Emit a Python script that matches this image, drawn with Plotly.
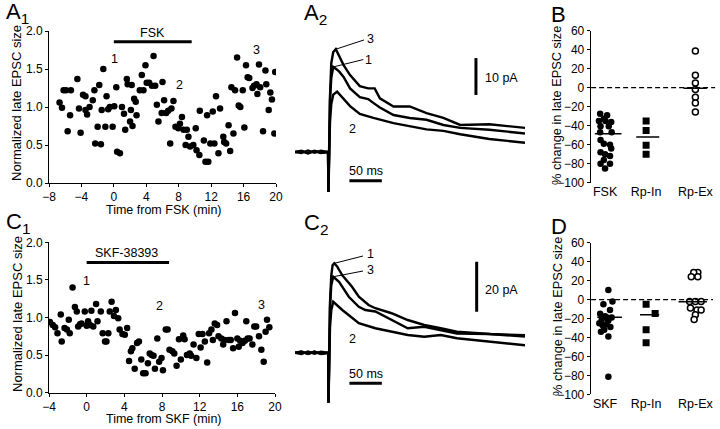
import plotly.graph_objects as go

FONT = "Liberation Sans, Arial, sans-serif"
W, H = 720, 429

# ---------------- A1: FSK time course ----------------
a1_time = [-6.7, -6.4, -6.2, -5.9, -5.7, -5.4, -5.3, -4.5, -4.3, -4.1, -3.8, -3.5, -3.5, -3.3, -3.0,
           -2.6, -2.4, -2.3, -2.0, -1.8, -1.6, -1.5, -1.3, -1.05, -0.9, -0.7, -0.5, -0.15, 0.05, 0.3,
           0.4, 0.75, 1.0, 1.25, 1.4, 1.6, 1.7, 2.0, 2.1, 2.2, 2.3, 2.5, 2.7, 2.8, 3.2, 3.45, 3.65,
           3.9, 4.05, 4.35, 4.7, 4.9, 5.1, 5.3, 5.5, 5.9, 6.0, 6.2, 6.45, 6.7, 6.95, 7.1, 7.35, 7.6,
           7.95, 8.15, 8.4, 8.6, 8.85, 9.0, 9.2, 9.4, 9.8, 10.1, 10.2, 10.55, 10.6, 11.1, 11.3, 11.5,
           11.65, 11.9, 12.2, 12.4, 12.6, 12.9, 13.1, 13.5, 13.6, 13.85, 14.15, 14.35, 14.5, 14.75,
           14.95, 15.2, 15.4, 15.6, 15.9, 16.1, 16.3, 16.5, 16.7, 17.1, 17.3, 17.6, 17.7, 17.9, 18.05,
           18.4, 18.7, 18.8, 19.1, 19.3, 19.5, 19.8, 19.9]
a1_size = [1.06, 0.99, 1.22, 1.22, 0.68, 0.89, 1.22, 1.37, 0.98, 0.66, 1.16, 1.14, 0.96, 0.90, 1.00,
           1.09, 1.22, 0.52, 0.74, 1.29, 0.51, 0.96, 1.50, 0.74, 1.14, 0.97, 1.00, 0.74, 1.01, 1.26,
           0.41, 0.39, 1.00, 0.91, 0.70, 1.37, 1.30, 0.81, 0.96, 1.29, 0.75, 1.11, 1.07, 0.89, 1.22, 1.42, 1.22,
           1.55, 1.32, 1.32, 1.28, 1.67, 1.28, 1.03, 0.81, 0.92, 1.33, 1.09, 0.92, 0.95, 0.52, 0.98, 1.08, 0.74,
           0.72, 0.78, 0.87, 0.70, 0.50, 0.70, 0.61, 0.48, 0.50, 0.72, 0.43, 0.37, 0.95, 0.56, 0.28, 0.89,
           0.28, 0.52, 0.94, 0.52, 1.14, 0.39, 0.98, 0.61, 0.54, 0.52, 0.76, 0.42, 1.26, 0.65,
           1.22, 1.65, 1.02, 1.00, 1.22, 0.73, 1.55, 1.39, 1.38, 1.25, 1.28, 1.30, 1.17, 1.56, 1.26,
           0.68, 1.48, 1.30, 0.96, 1.19, 1.10, 0.65, 1.46]
a1_xticks = [-8, -4, 0, 4, 8, 12, 16, 20]
a1_yticks = [0.0, 0.5, 1.0, 1.5, 2.0]
a1_drug = [0, 9.6]

# ---------------- C1: SKF time course ----------------
c1_time = [-3.9, -3.6, -3.35, -3.1, -2.75, -2.65, -2.35, -2.1, -1.9, -1.8, -1.5, -1.25, -1.05, -0.9,
           -0.7, -0.55, -0.2, 0.0, 0.15, 0.35, 0.5, 0.7, 1.0, 1.15, 1.5, 1.7, 1.95, 2.1, 2.3, 2.45,
           2.65, 2.9, 3.1, 3.35, 3.5, 3.8, 4.05, 4.3, 4.5, 4.7, 4.85, 5.1, 5.35, 5.55, 5.8, 6.0, 6.25,
           6.5, 6.7, 6.9, 7.1, 7.25, 7.5, 7.7, 7.95, 8.1, 8.4, 8.6, 8.8, 9.1, 9.3, 9.55, 9.8, 10.0,
           10.25, 10.4, 10.65, 10.95, 11.1, 11.35, 11.65, 11.9, 12.1, 12.3, 12.55, 12.8, 13.0, 13.25,
           13.4, 13.6, 13.85, 14.0, 14.3, 14.5, 14.65, 14.85, 15.1, 15.3, 15.55, 15.75, 16.0, 16.15,
           16.3, 16.55, 16.8, 16.95, 17.1, 17.3, 17.6, 17.8, 18.0, 18.3, 18.55, 18.8, 19.0, 19.15, 19.4]
c1_size = [0.94, 0.90, 0.87, 0.79, 1.04, 0.68, 0.86, 0.84, 0.97, 0.79, 1.40, 1.14, 1.08, 0.88,
           0.91, 0.92, 1.08, 0.89, 0.95, 0.90, 1.09, 0.88, 1.18, 0.95, 1.08, 0.79, 0.68, 0.68, 0.79, 1.08,
           1.21, 1.02, 1.10, 0.99, 0.84, 0.78, 0.77, 0.86, 0.42, 0.55, 0.59, 0.32, 0.66, 0.68, 0.44, 0.26, 0.26,
           0.39, 0.52, 0.50, 0.49, 0.32, 0.72, 0.41, 0.46, 0.30, 0.84, 0.84, 0.57, 0.55, 0.52, 0.36, 0.71, 0.44,
           0.76, 0.71, 0.50, 0.52, 0.49, 0.64, 0.46, 0.78, 0.60, 0.78, 0.68, 0.40, 0.79, 0.84,
           0.70, 0.92, 0.90, 0.75, 0.72, 0.64, 0.70, 0.95, 0.70, 0.70, 0.59, 1.06, 0.72, 0.61,
           0.69, 0.66, 0.69, 0.95, 0.72, 0.72, 0.64, 0.88, 0.88, 0.75, 0.57, 0.41, 0.81, 0.97, 0.87]
c1_xticks = [-4, 0, 4, 8, 12, 16, 20]
c1_drug = [0, 8.75]

# ---------------- A2 / C2: EPSC traces (ms, pA) ----------------
a2_t3 = [0, 10, 20, 30, 40, 50, 51, 51.6, 52.5, 54, 56, 59, 63, 68, 75, 85, 100, 113, 123, 131, 152, 177, 203, 229, 255, 300, 355]
a2_i3 = [0, 0.3, -0.4, 0.2, -0.3, 0, 0, -10.8, 2, 15, 24, 27, 27.8, 26, 23.5, 20.8, 17.8, 17.2, 17.2, 14.5, 12.3, 12.3, 10.5, 9.2, 7.3, 7.5, 6.5]
a2_t1 = [0, 10, 20, 30, 40, 50, 51, 51.6, 52.5, 54, 56, 59, 63, 68, 75, 85, 100, 113, 123, 131, 152, 177, 203, 229, 255, 300, 355]
a2_i1 = [0, -0.3, 0.4, -0.2, 0.3, 0, 0, -10.8, 2, 14, 20, 23, 22.5, 21.8, 20.3, 17.2, 14.8, 14.3, 13, 12, 10, 9.2, 8.7, 7.3, 6.5, 6, 5]
a2_t2 = [0, 10, 20, 30, 40, 50, 51, 51.6, 52.5, 54, 56, 59, 65, 72, 85, 100, 121, 152, 177, 203, 229, 255, 300, 355]
a2_i2 = [0, 0.2, -0.3, 0.3, -0.2, 0, 0, -10.8, 0, 8, 13, 15.5, 16.3, 15, 12.4, 10.3, 9.2, 7.8, 7, 6.1, 5.7, 4.8, 3.5, 2.5]

c2_t1 = [0, 10, 20, 30, 40, 50, 51.2, 51.7, 52.5, 54, 56, 58, 60.6, 65, 73, 88, 98.5, 113.6, 124, 149, 174, 199.5, 225, 250, 300, 355]
c2_i1 = [0, 0.5, -0.5, 0.4, -0.4, 0, 0, -20, 0, 20, 31, 35, 35.8, 34.5, 31, 26.4, 22.4, 19.1, 17.8, 15.8, 13.1, 11.1, 9.8, 8.4, 7.5, 7]
c2_t3 = [0, 10, 20, 30, 40, 50, 51.2, 51.7, 52.5, 54, 56, 59, 68, 83, 98.5, 108.6, 124, 149, 174, 199.5, 225, 250, 300, 355]
c2_i3 = [0, -0.5, 0.5, -0.4, 0.4, 0, 0, -20, 0, 18, 27, 30.4, 28.4, 22.4, 18.4, 17.1, 16.5, 13.1, 9.8, 10.4, 9.1, 7.7, 7.5, 6.5]
c2_t2 = [0, 10, 20, 30, 40, 50, 51.2, 51.7, 52.5, 54, 56, 59, 73, 98.5, 124, 149, 174, 199.5, 225, 250, 300, 355]
c2_i2 = [0, 0.4, -0.4, 0.5, -0.5, 0, 0, -20, -3, 10, 17, 20.4, 17.1, 11.8, 9.8, 8.4, 7.1, 6.4, 7.1, 5.8, 4.5, 3]

# ---------------- B / D: % change ----------------
grp_labels = ["FSK", "Rp-In", "Rp-Ex"]
grp_labels_d = ["SKF", "Rp-In", "Rp-Ex"]
grp_pos = [0, 1, 2.2]

b_fsk = [-27.4, -29, -32.6, -35, -35, -36, -40.7, -40.7, -47, -47, -55, -59, -60, -64, -68, -70, -72, -76, -80, -80, -85]
b_fsk_jit = [-0.12, 0.05, -0.03, -0.15, 0.01, 0.15, -0.11, 0.09, -0.12, 0.16, -0.11, -0.03, 0.12, 0.15, -0.11, 0.0, 0.12, -0.03, -0.11, 0.12, 0.0]
b_rpin = [-35, -45, -60.7, -70]
b_rpex = [38.6, 13, 4.9, -2, -10, -16, -25.6]
b_means = [-48.4, -52, -0.7]

d_skf = [10, -5, -2, -15, -11, -17.5, -19, -21, -22, -19, -25, -26, -27, -29, -32, -34, -39, -81.5]
d_skf_jit = [0.08, -0.04, 0.18, -0.12, 0.12, 0.0, 0.05, -0.08, 0.08, 0.16, -0.14, 0.04, -0.06, 0.13, -0.02, -0.1, 0.08, 0.08]
d_rpin = [-5, -14.6, -32, -45.6]
d_rpin_jit = [0, 0.22, 0, 0]
d_rpex = [28.5, 28.5, 24, 24, -2, -2, -2, -9, -11, -11, -16, -21]
d_rpex_jit = [0.06, -0.04, -0.1, 0.06, -0.14, 0.0, 0.14, -0.12, 0.04, 0.14, 0.0, -0.03]
d_means = [-18.8, -16, -2.3]

# -------------------------------------------------
fig = go.Figure()

def dom(x0, x1, y0, y1):
    return dict(x=[x0 / W, x1 / W], y=[1 - y1 / H, 1 - y0 / H])

A1 = dom(49, 276, 31, 183)
C1 = dom(49, 275, 242.3, 392.7)
A2 = dom(295, 525, 20, 200)
C2 = dom(295, 525, 235, 410)
B = dom(590.7, 720, 30.7, 182.7)
D = dom(590.7, 720, 242.7, 394.3)

tickfont = dict(size=12, color="black", family=FONT)
axis_common = dict(showline=True, linecolor="black", linewidth=1, ticks="outside", ticklen=3,
                   tickwidth=1, tickcolor="black", showgrid=False, zeroline=False, tickfont=tickfont,
                   fixedrange=True, automargin=False)
hidden = dict(visible=False, showgrid=False, zeroline=False, fixedrange=True)

dot = dict(color="black", size=6.5, symbol="circle")

fig.add_trace(go.Scatter(x=a1_time, y=a1_size, mode="markers", marker=dot, xaxis="x", yaxis="y"))
fig.add_trace(go.Scatter(x=c1_time, y=c1_size, mode="markers", marker=dot, xaxis="x4", yaxis="y4"))

tr_line = dict(color="black", width=2.4)
for t, i in [(a2_t2, a2_i2), (a2_t1, a2_i1), (a2_t3, a2_i3)]:
    fig.add_trace(go.Scatter(x=t, y=i, mode="lines", line=tr_line, xaxis="x2", yaxis="y2"))
for t, i in [(c2_t2, c2_i2), (c2_t3, c2_i3), (c2_t1, c2_i1)]:
    fig.add_trace(go.Scatter(x=t, y=i, mode="lines", line=tr_line, xaxis="x5", yaxis="y5"))

# B
fig.add_trace(go.Scatter(x=[grp_pos[0] + j for j in b_fsk_jit], y=b_fsk, mode="markers",
                         marker=dot, xaxis="x3", yaxis="y3"))
fig.add_trace(go.Scatter(x=[grp_pos[1]] * len(b_rpin), y=b_rpin, mode="markers",
                         marker=dict(color="black", size=7, symbol="square"), xaxis="x3", yaxis="y3"))
fig.add_trace(go.Scatter(x=[grp_pos[2]] * len(b_rpex), y=b_rpex, mode="markers",
                         marker=dict(color="white", size=6, symbol="circle", line=dict(color="black", width=1.5)),
                         xaxis="x3", yaxis="y3"))
# D
fig.add_trace(go.Scatter(x=[grp_pos[0] + j for j in d_skf_jit], y=d_skf, mode="markers",
                         marker=dot, xaxis="x6", yaxis="y6"))
fig.add_trace(go.Scatter(x=[grp_pos[1] + j for j in d_rpin_jit], y=d_rpin, mode="markers",
                         marker=dict(color="black", size=7, symbol="square"), xaxis="x6", yaxis="y6"))
fig.add_trace(go.Scatter(x=[grp_pos[2] + j for j in d_rpex_jit], y=d_rpex, mode="markers",
                         marker=dict(color="white", size=6, symbol="circle", line=dict(color="black", width=1.5)),
                         xaxis="x6", yaxis="y6"))

shapes = []
def line(xref, yref, x0, y0, x1, y1, width=1, dash="solid"):
    shapes.append(dict(type="line", xref=xref, yref=yref, x0=x0, y0=y0, x1=x1, y1=y1,
                       line=dict(color="black", width=width, dash=dash)))

# drug bars
line("x", "y", a1_drug[0], 1.86, a1_drug[1], 1.86, 3)
line("x4", "y4", c1_drug[0], 1.73, c1_drug[1], 1.73, 3)

# mean lines & zero lines
mean_span = [(-0.25, 0.4), (0.76, 1.32), (1.91, 2.48)]
for (a, b), m in zip(mean_span, b_means):
    line("x3", "y3", a, m, b, m, 1.5)
mean_span_d = [(-0.19, 0.41), (0.85, 1.32), (1.79, 2.48)]
for (a, b), m in zip(mean_span_d, d_means):
    line("x6", "y6", a, m, b, m, 1.5)
line("x3", "y3", -0.34, 0, 2.68, 0, 1.2, "5px,3px")
line("x6", "y6", -0.34, 0, 2.63, 0, 1.2, "5px,3px")

# scale bars
line("x2", "y2", 279.3, 15.4, 279.3, 25.4, 3)
line("x2", "y2", 84, -7.8, 134, -7.8, 3)
line("x5", "y5", 280.4, 16.4, 280.4, 36.4, 3)
line("x5", "y5", 84, -12.2, 134, -12.2, 3)

# leader lines
line("x2", "y2", 63, 27.8, 106.5, 30.3, 1)
line("x2", "y2", 59, 23, 105.5, 25, 1)
line("x5", "y5", 61, 35.8, 105, 38.7, 1)
line("x5", "y5", 59, 30.4, 105, 32.7, 1)

ann = []
def text(s, x, y, xref="paper", yref="paper", size=12, xanchor="center", yanchor="middle", angle=0):
    if xref == "paper":
        x = x / W
    if yref == "paper":
        y = 1 - y / H
    ann.append(dict(text=s, x=x, y=y, xref=xref, yref=yref, showarrow=False, xanchor=xanchor,
                    yanchor=yanchor, textangle=angle, font=dict(size=size, color="black", family=FONT)))

# panel letters
text("A<sub>1</sub>", 4, 13, size=22, xanchor="left")
text("A<sub>2</sub>", 302, 14, size=22, xanchor="left")
text("B", 549, 14, size=22, xanchor="left")
text("C<sub>1</sub>", 4, 223, size=22, xanchor="left")
text("C<sub>2</sub>", 302, 224, size=22, xanchor="left")
text("D", 549, 226, size=22, xanchor="left")

# axis titles
text("Normalized late EPSC size", 17, 103, size=13, angle=-90)
text("Normalized late EPSC size", 17, 314, size=13, angle=-90)
text("Time from FSK (min)", 164, 209.5, size=12.5)
text("Time from SKF (min)", 164, 418.5, size=12.5)
text("% change in late EPSC size", 557, 106, size=12.8, angle=-90)
text("% change in late EPSC size", 557, 317, size=12.8, angle=-90)

# labels in A1/C1
text("FSK", 4.8, 1.98, "x", "y", size=12.5)
text("1", 0.1, 1.63, "x", "y", size=12.5)
text("2", 8.05, 1.29, "x", "y", size=12.5)
text("3", 17.6, 1.75, "x", "y", size=12.5)
text("SKF-38393", 4.2, 1.86, "x4", "y4", size=12.5)
text("1", 0.0, 1.49, "x4", "y4", size=12.5)
text("2", 7.7, 1.15, "x4", "y4", size=12.5)
text("3", 18.55, 1.17, "x4", "y4", size=12.5)

# traces labels
text("3", 117, 30.5, "x2", "y2", size=12.5)
text("1", 114, 24.9, "x2", "y2", size=12.5)
text("2", 89, 6.2, "x2", "y2", size=12.5)
text("10 pA", 290, 20, "x2", "y2", size=12.5, xanchor="left")
text("50 ms", 109, -5.1, "x2", "y2", size=12.5)
text("1", 117, 39.5, "x5", "y5", size=12.5)
text("3", 117, 33, "x5", "y5", size=12.5)
text("2", 89, 5.5, "x5", "y5", size=12.5)
text("20 pA", 290, 25, "x5", "y5", size=12.5, xanchor="left")
text("50 ms", 109, -8.3, "x5", "y5", size=12.5)

cat_axis = dict(showline=False, ticks="", showgrid=False, zeroline=False, tickfont=dict(size=12.5, color="black", family=FONT),
                tickmode="array", tickvals=grp_pos, range=[-0.35, 2.8], fixedrange=True, automargin=False)

fig.update_layout(
    width=W, height=H, margin=dict(l=0, r=0, t=0, b=0, autoexpand=False),
    paper_bgcolor="white", plot_bgcolor="white", showlegend=False,
    xaxis=dict(axis_common, domain=A1["x"], range=[-8, 20], tickmode="array", tickvals=a1_xticks, anchor="y"),
    yaxis=dict(axis_common, domain=A1["y"], range=[0, 2], tickmode="array", tickvals=a1_yticks, tickformat=".1f", anchor="x"),
    xaxis2=dict(hidden, domain=A2["x"], range=[0, 355], anchor="y2"),
    yaxis2=dict(hidden, domain=A2["y"], range=[-13, 35.7], anchor="x2"),
    xaxis3=dict(cat_axis, domain=B["x"], ticktext=grp_labels, anchor="y3"),
    yaxis3=dict(axis_common, domain=B["y"], range=[-100, 60], dtick=20, anchor="x3"),
    xaxis4=dict(axis_common, domain=C1["x"], range=[-4, 20], tickmode="array", tickvals=c1_xticks, anchor="y4"),
    yaxis4=dict(axis_common, domain=C1["y"], range=[0, 2], tickmode="array", tickvals=a1_yticks, tickformat=".1f", anchor="x4"),
    xaxis5=dict(hidden, domain=C2["x"], range=[0, 355], anchor="y5"),
    yaxis5=dict(hidden, domain=C2["y"], range=[-22.9, 47.1], anchor="x5"),
    xaxis6=dict(cat_axis, domain=D["x"], ticktext=grp_labels_d, anchor="y6"),
    yaxis6=dict(axis_common, domain=D["y"], range=[-100, 60], dtick=20, anchor="x6"),
    shapes=shapes, annotations=ann,
)

fig.write_html("out.html", config={"displayModeBar": False},
               post_script="document.body.style.margin='0';document.body.style.overflow='hidden';")
